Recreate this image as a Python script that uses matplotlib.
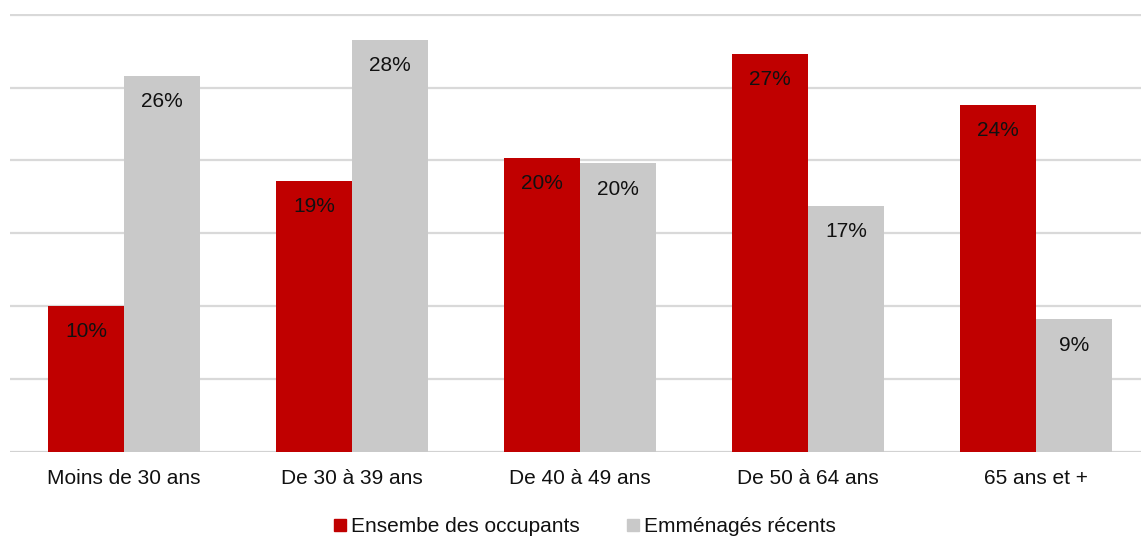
import numpy as np
import matplotlib.pyplot as plt
from matplotlib.patches import Patch

plt.rcParams['font.family'] = ['Liberation Sans', 'DejaVu Sans']

categories = ['Moins de 30 ans', 'De 30 à 39 ans', 'De 40 à 49 ans', 'De 50 à 64 ans', '65 ans et +']
ensemble = [10.0, 18.6, 20.2, 27.3, 23.8]
recents = [25.8, 28.3, 19.8, 16.9, 9.1]
series_names = ['Ensembe des occupants', 'Emménagés récents']

red = '#C00000'
grey = '#C9C9C9'

fig = plt.figure(figsize=(11.41, 5.37), dpi=100)
ax = fig.add_axes([10 / 1141, 85 / 537, 1131 / 1141, 438 / 537])

x = np.arange(len(categories))
w = 1 / 3
b1 = ax.bar(x - w / 2, ensemble, w, color=red, zorder=3)
b2 = ax.bar(x + w / 2, recents, w, color=grey, zorder=3)

# étiquettes à l'intérieur du haut des barres
for bars, vals in [(b1, ensemble), (b2, recents)]:
    for bar, v in zip(bars, vals):
        ax.annotate(f'{v:.0f}%', (bar.get_x() + bar.get_width() / 2, v),
                    xytext=(0, -18.5), textcoords='offset points',
                    ha='center', va='center', fontsize=15, color='#111111', zorder=4)

ax.set_xlim(-0.5, (1141 - 124) / 228)
ax.set_ylim(0, 30.05)
ax.set_yticks(np.arange(0, 31, 5))
ax.yaxis.grid(True, color='#D9D9D9', linewidth=1.6, zorder=0)
ax.axhline(0, color='#D0D0D0', linewidth=1.8, zorder=2)
ax.tick_params(axis='y', left=False, labelleft=False)
ax.tick_params(axis='x', bottom=False, labelsize=15, pad=9, colors='#111111')
ax.set_xticks(x)
ax.set_xticklabels(categories)
for s in ax.spines.values():
    s.set_visible(False)

handles = [Patch(color=red), Patch(color=grey)]
fig.legend(handles, series_names, loc='center', bbox_to_anchor=(585 / 1141, 1 - 527 / 537),
           ncol=2, frameon=False, fontsize=15, handlelength=0.55, handleheight=0.55,
           handletextpad=0.25, columnspacing=2.3, labelcolor='#111111')

fig.savefig('out.png', dpi=100)
